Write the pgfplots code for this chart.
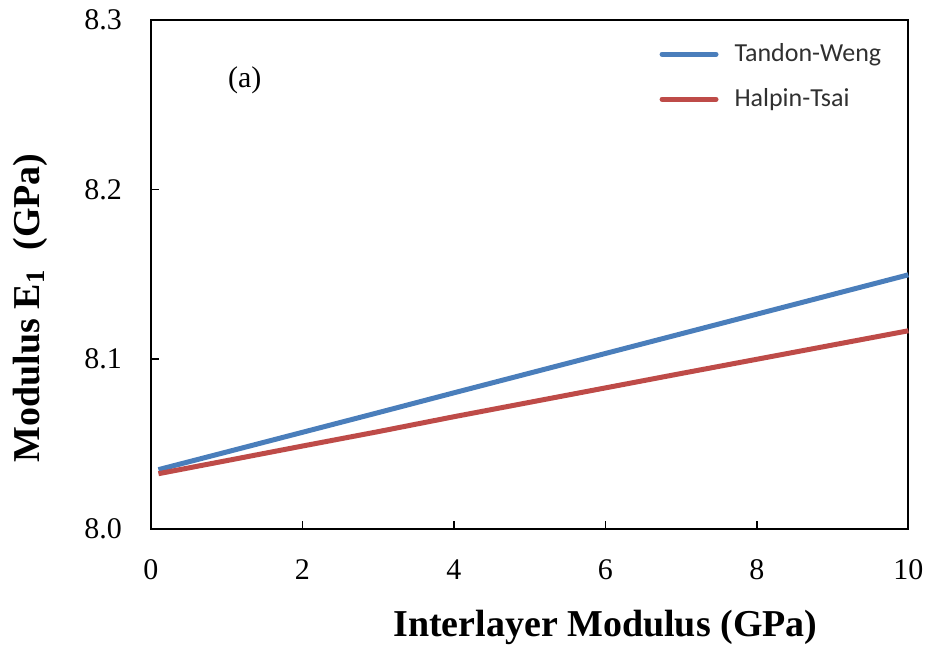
\documentclass[border=0pt]{standalone}
\usepackage{pgfplots}
\pgfplotsset{compat=1.18}
\usepackage{fontspec}
\setmainfont{Liberation Serif}
\newfontfamily\legfont{Carlito}
\definecolor{tw}{HTML}{4A7EBB}
\definecolor{ht}{HTML}{BE4B48}
\definecolor{legtext}{HTML}{303030}
\begin{document}
\begin{tikzpicture}
\begin{axis}[
  scale only axis,
  width=379pt, height=254.5pt,
  xmin=0, xmax=10, ymin=8.0, ymax=8.3,
  xtick={0,2,4,6,8,10},
  ytick={8.0,8.1,8.2,8.3},
  y tick label style={/pgf/number format/fixed, /pgf/number format/fixed zerofill, /pgf/number format/precision=1},
  /pgf/number format/assume math mode=true,
  tick align=inside,
  xtick pos=bottom, ytick pos=left,
  major tick length=4pt,
  axis line style={line width=0.9pt},
  tick style={line width=0.7pt, black},
  ticklabel style={font=\fontsize{15}{17}\selectfont},
  x tick label style={anchor=center, yshift=-20.5pt},
  y tick label style={anchor=east, xshift=-11pt},
  xlabel={\textbf{Interlayer Modulus (GPa)}},
  ylabel={\textbf{Modulus E$_{\mathbf{1}}$\ \ (GPa)}},
  label style={font=\fontsize{19}{21}\selectfont},
  xlabel style={at={(rel axis cs:0.6,0)}, anchor=center, yshift=-49.5pt},
  ylabel style={at={(rel axis cs:0,0.434)}, anchor=center, yshift=60.5pt},
  legend style={draw=none, fill=none, at={(rel axis cs:0.671,0.962)}, anchor=north west,
    inner sep=0pt, font=\legfont\fontsize{13}{15}\selectfont, text=legtext, row sep=8pt,
    nodes={inner xsep=8pt}},
  legend cell align=left,
  legend image code/.code={\draw[#1, line width=2.5pt, line cap=round] (0pt,0pt) -- (27pt,0pt);},
  clip=false,
]
\addplot[tw, line width=2.5pt] coordinates {
 (0.1,8.0348) (1,8.0452) (2,8.0568) (3,8.0684) (4,8.0801) (5,8.0917)
 (6,8.1033) (7,8.1149) (8,8.1265) (9,8.1381) (10,8.1497)};
\addlegendentry{Tandon-Weng}
\addplot[ht, line width=2.5pt] coordinates {
 (0.1,8.0324) (1,8.0401) (2,8.0487) (3,8.0572) (4,8.0660) (5,8.0745)
 (6,8.0830) (7,8.0915) (8,8.0999) (9,8.1083) (10,8.1167)};
\addlegendentry{Halpin-Tsai}
\node[font=\fontsize{15}{17}\selectfont] at (axis cs:1.24,8.2646) {(a)};
\end{axis}
\useasboundingbox (current axis.south west) ++(-75.5pt,-62.5pt) rectangle ++(465pt,327pt);
\end{tikzpicture}
\end{document}
